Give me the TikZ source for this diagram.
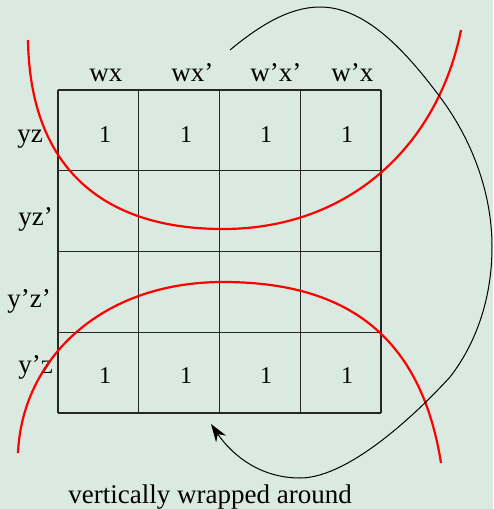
\documentclass[tikz,border=0pt]{standalone}
\usepackage{fontspec}
\setmainfont{Liberation Serif}
\usetikzlibrary{arrows.meta}
\definecolor{Mint}{HTML}{DBEAE0}
\definecolor{Loop}{HTML}{FF0000}
\definecolor{Ink}{HTML}{000000}
\tikzset{
  >=Stealth,
  every node/.style={text=Ink, inner sep=0pt},
  label text/.style={font=\fontsize{13.5}{16}\selectfont, anchor=base west},
  cell one/.style={font=\fontsize{12}{14}\selectfont, anchor=base},
  map line/.style={draw=black!85, line width=0.7pt},
  group loop/.style={draw=Loop, line width=1.1pt},
  wrap arrow/.style={draw=Ink, line width=0.5pt, -{Stealth[length=9pt,width=6pt]}},
}

\begin{document}
\begin{tikzpicture}[x=0.5pt,y=-0.5pt]
  \path[fill=Mint] (0,0) rectangle (493,509);
  \useasboundingbox (0,0) rectangle (493,509);

  % Karnaugh map grid, 4 by 4 cells.
  \foreach \k in {0,...,4} {
    \draw[map line] (58+80.75*\k,90) -- (58+80.75*\k,413);
    \draw[map line] (58,90+80.75*\k) -- (381,90+80.75*\k);
  }

  % Column and row headings.
  \foreach \name/\x/\txt in {wx/89/wx, wxp/171/wx’, wpxp/250/w’x’, wpx/331/w’x}
    \node[label text] (\name) at (\x,81) {\txt};
  \node[label text] (yz)   at (17,142) {yz};
  \node[label text] (yzp)  at (18,225) {yz’};
  \node[label text] (ypzp) at (7,307)  {y’z’};
  \node[label text] (ypz)  at (18,373) {y’z};

  % The ones in the top and bottom rows.
  \foreach \c/\x in {1/105, 2/186, 3/266, 4/347} {
    \node[cell one] (one-1-\c) at (\x,142) {1};
    \node[cell one] (one-4-\c) at (\x,383) {1};
  }

  % Group loops around the top and bottom rows.
  \draw[group loop] (28,40) .. controls (30,170) and (105,229) .. (223,229)
    .. controls (350,229) and (438,145) .. (461,30);
  \draw[group loop] (18,453) .. controls (22,360) and (100,282) .. (223,282)
    .. controls (340,282) and (420,330) .. (441,463);

  % Wrap-around arrow.
  \coordinate (wrap start) at (230,50);
  \coordinate (wrap tip) at (211,424);
  \draw[wrap arrow] (wrap start) .. controls (260,25) and (290,7) .. (320,7)
    .. controls (365,7) and (405,50) .. (440,97)
    .. controls (470,137) and (492,190) .. (492,247)
    .. controls (492,300) and (475,345) .. (450,377)
    .. controls (420,410) and (350,478) .. (300,478)
    .. controls (260,478) and (232,455) .. (wrap tip);

  \node[label text] (caption) at (68,503) {vertically wrapped around};
\end{tikzpicture}
\end{document}
